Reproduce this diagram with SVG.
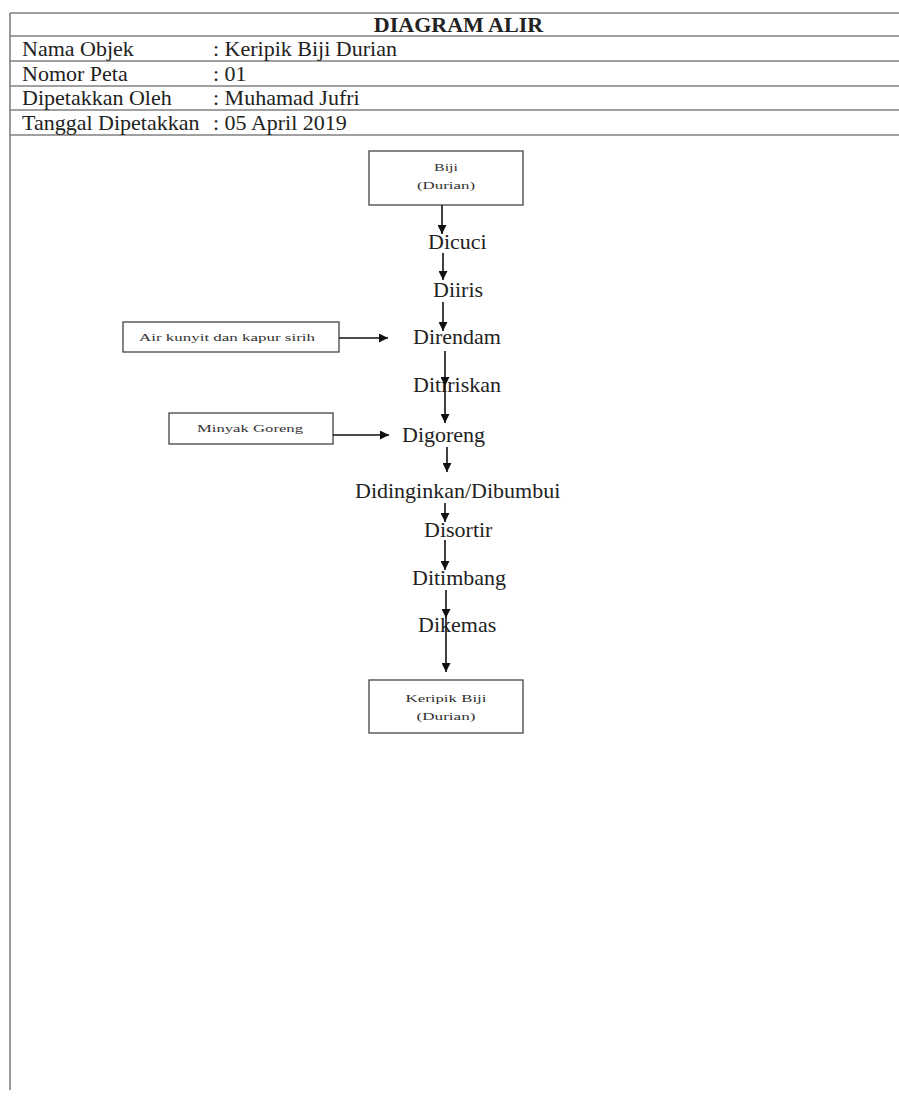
<svg xmlns="http://www.w3.org/2000/svg" width="899" height="1100" viewBox="0 0 899 1100">
<defs>
<marker id="ah" viewBox="0 0 10 10" refX="10" refY="5" markerWidth="9" markerHeight="9" markerUnits="userSpaceOnUse" orient="auto">
<path d="M0,0 L10,5 L0,10 z" fill="#111"/>
</marker>
</defs>
<style>
.rule{stroke:#808080;stroke-width:1.6;fill:none}
.hdr{font-family:"Liberation Serif","Times New Roman",serif;font-size:22px;fill:#222}
.title{font-family:"Liberation Serif","Times New Roman",serif;font-size:22px;font-weight:bold;fill:#222}
.step{font-family:"Liberation Serif","Times New Roman",serif;font-size:22px;fill:#222}
.small{font-family:"Liberation Serif","Times New Roman",serif;font-size:10.5px;fill:#333}
.box{fill:#fff;stroke:#444;stroke-width:1.3}
.conn line{stroke:#111;stroke-width:1.6}
</style>
<rect width="899" height="1100" fill="#fff"/>
<g id="header">
<line class="rule" x1="10" y1="13" x2="899" y2="13"/>
<line class="rule" x1="10" y1="36" x2="899" y2="36"/>
<line class="rule" x1="10" y1="61" x2="899" y2="61"/>
<line class="rule" x1="10" y1="86" x2="899" y2="86"/>
<line class="rule" x1="10" y1="110" x2="899" y2="110"/>
<line class="rule" x1="10" y1="135" x2="899" y2="135"/>
<line class="rule" x1="10" y1="13" x2="10" y2="1090"/>
<text class="title" x="458.5" y="32" text-anchor="middle">DIAGRAM ALIR</text>
<text class="hdr" x="22" y="56">Nama Objek</text>
<text class="hdr" x="213" y="56">: Keripik Biji Durian</text>
<text class="hdr" x="22" y="81">Nomor Peta</text>
<text class="hdr" x="213" y="81">: 01</text>
<text class="hdr" x="22" y="105">Dipetakkan Oleh</text>
<text class="hdr" x="213" y="105">: Muhamad Jufri</text>
<text class="hdr" x="22" y="130">Tanggal Dipetakkan</text>
<text class="hdr" x="213" y="130">: 05 April 2019</text>
</g>
<g id="n-biji">
<rect class="box" x="369" y="151" width="154" height="54"/>
<text class="small" x="446" y="171" text-anchor="middle" textLength="24" lengthAdjust="spacingAndGlyphs">Biji</text>
<text class="small" x="446" y="189" text-anchor="middle" textLength="58" lengthAdjust="spacingAndGlyphs">(Durian)</text>
</g>
<g id="n-dicuci"><text class="step" x="428" y="249">Dicuci</text></g>
<g id="n-diiris"><text class="step" x="433" y="297">Diiris</text></g>
<g id="n-air">
<rect class="box" x="123" y="322" width="216" height="30"/>
<text class="small" x="227" y="341" text-anchor="middle" textLength="176" lengthAdjust="spacingAndGlyphs">Air kunyit dan kapur sirih</text>
</g>
<g id="n-direndam"><text class="step" x="413" y="344">Direndam</text></g>
<g id="n-ditiriskan"><text class="step" x="413" y="392">Ditiriskan</text></g>
<g id="n-minyak">
<rect class="box" x="169" y="413" width="164" height="31"/>
<text class="small" x="250" y="432" text-anchor="middle" textLength="106" lengthAdjust="spacingAndGlyphs">Minyak Goreng</text>
</g>
<g id="n-digoreng"><text class="step" x="402" y="442">Digoreng</text></g>
<g id="n-didinginkan"><text class="step" x="355" y="498">Didinginkan/Dibumbui</text></g>
<g id="n-disortir"><text class="step" x="424" y="537">Disortir</text></g>
<g id="n-ditimbang"><text class="step" x="412" y="585">Ditimbang</text></g>
<g id="n-dikemas"><text class="step" x="418" y="632">Dikemas</text></g>
<g id="n-keripik">
<rect class="box" x="369" y="680" width="154" height="53"/>
<text class="small" x="446" y="702" text-anchor="middle" textLength="81" lengthAdjust="spacingAndGlyphs">Keripik Biji</text>
<text class="small" x="446" y="720" text-anchor="middle" textLength="59" lengthAdjust="spacingAndGlyphs">(Durian)</text>
</g>
<g id="connectors" class="conn">
<line x1="442" y1="205" x2="442" y2="234" marker-end="url(#ah)"/>
<line x1="443" y1="253" x2="443" y2="280" marker-end="url(#ah)"/>
<line x1="443" y1="302" x2="443" y2="331" marker-end="url(#ah)"/>
<line x1="339" y1="338" x2="388" y2="338" marker-end="url(#ah)"/>
<line x1="445" y1="351" x2="445" y2="386" marker-end="url(#ah)"/>
<line x1="445" y1="386" x2="445" y2="423" marker-end="url(#ah)"/>
<line x1="333" y1="435" x2="389" y2="435" marker-end="url(#ah)"/>
<line x1="447" y1="447" x2="447" y2="472" marker-end="url(#ah)"/>
<line x1="445" y1="503" x2="445" y2="522" marker-end="url(#ah)"/>
<line x1="445" y1="540" x2="445" y2="570" marker-end="url(#ah)"/>
<line x1="446" y1="590" x2="446" y2="618" marker-end="url(#ah)"/>
<line x1="446" y1="618" x2="446" y2="672" marker-end="url(#ah)"/>
</g>
</svg>
